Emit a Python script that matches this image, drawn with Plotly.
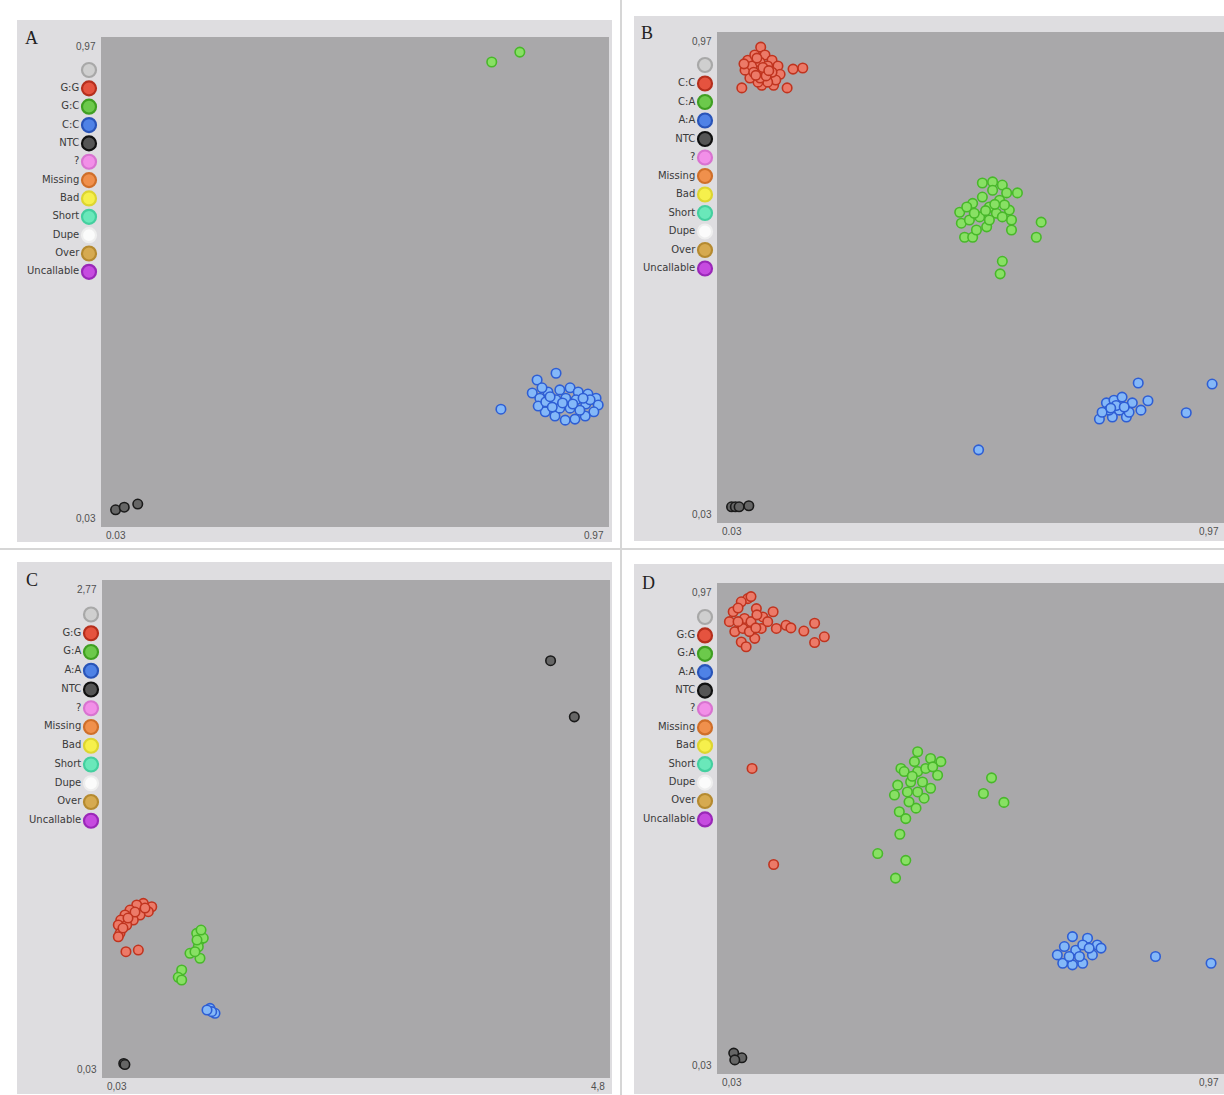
import plotly.graph_objects as go

W, H = 1224, 1095

# ---------------- data ----------------
# Panel A  (alleles G/C)
A_x_ticks = ["0.03", "0.97"]
A_y_ticks = ["0,03", "0,97"]
A_range_x = [0.03, 0.97]
A_range_y = [0.03, 0.97]
A_legend = ["", "G:G", "G:C", "C:C", "NTC", "?", "Missing", "Bad", "Short", "Dupe", "Over", "Uncallable"]
A_GC_x = [0.753, 0.805]
A_GC_y = [0.922, 0.941]
A_CC_x = [0.770, 0.837, 0.872, 0.898, 0.828, 0.842, 0.857, 0.879, 0.913, 0.931, 0.946, 0.950, 0.942, 0.926,
          0.907, 0.889, 0.870, 0.852, 0.839, 0.853, 0.872, 0.890, 0.909, 0.927, 0.879, 0.898, 0.916, 0.865,
          0.935, 0.846, 0.922, 0.884, 0.903, 0.861]
A_CC_y = [0.256, 0.312, 0.325, 0.297, 0.287, 0.277, 0.289, 0.293, 0.289, 0.285, 0.277, 0.264, 0.251, 0.243,
          0.237, 0.235, 0.243, 0.251, 0.262, 0.270, 0.274, 0.277, 0.274, 0.266, 0.258, 0.258, 0.254, 0.260,
          0.274, 0.297, 0.277, 0.268, 0.266, 0.280]
A_NTC_x = [0.057, 0.073, 0.098]
A_NTC_y = [0.063, 0.068, 0.074]

# Panel B  (alleles C/A)
B_x_ticks = ["0.03", "0,97"]
B_y_ticks = ["0,03", "0,97"]
B_range_x = [0.03, 0.97]
B_range_y = [0.03, 0.97]
B_legend = ["", "C:C", "C:A", "A:A", "NTC", "?", "Missing", "Bad", "Short", "Dupe", "Over", "Uncallable"]
B_CC_x = [0.111, 0.171, 0.189, 0.076, 0.113, 0.135, 0.160, 0.087, 0.100, 0.119, 0.132, 0.143, 0.147, 0.139,
          0.124, 0.106, 0.091, 0.082, 0.095, 0.110, 0.124, 0.132, 0.113, 0.098, 0.110, 0.121, 0.080, 0.104,
          0.115, 0.126, 0.102]
B_CC_y = [0.941, 0.899, 0.901, 0.863, 0.868, 0.868, 0.863, 0.916, 0.926, 0.926, 0.916, 0.905, 0.889, 0.878,
          0.874, 0.874, 0.882, 0.897, 0.905, 0.912, 0.905, 0.893, 0.893, 0.893, 0.882, 0.886, 0.909, 0.920,
          0.902, 0.896, 0.887]
B_CA_x = [0.522, 0.541, 0.559, 0.587, 0.480, 0.483, 0.489, 0.504, 0.572, 0.576, 0.576, 0.631, 0.622, 0.559,
          0.555, 0.504, 0.522, 0.535, 0.554, 0.548, 0.517, 0.498, 0.530, 0.511, 0.559, 0.541, 0.567, 0.493,
          0.507, 0.535, 0.563, 0.528, 0.545]
B_CA_y = [0.681, 0.683, 0.677, 0.662, 0.625, 0.604, 0.577, 0.577, 0.629, 0.610, 0.591, 0.606, 0.577, 0.531,
          0.507, 0.642, 0.654, 0.635, 0.648, 0.623, 0.616, 0.610, 0.597, 0.591, 0.616, 0.667, 0.662, 0.635,
          0.623, 0.610, 0.639, 0.628, 0.640]
B_AA_x = [0.515, 0.739, 0.752, 0.766, 0.781, 0.800, 0.816, 0.789, 0.763, 0.776, 0.794, 0.757, 0.744, 0.811,
          0.829, 0.900, 0.948, 0.770, 0.785, 0.760]
B_AA_y = [0.170, 0.229, 0.260, 0.265, 0.271, 0.260, 0.246, 0.233, 0.233, 0.246, 0.242, 0.246, 0.242, 0.298,
          0.264, 0.241, 0.296, 0.255, 0.252, 0.250]
B_NTC_x = [0.057, 0.064, 0.071, 0.089]
B_NTC_y = [0.061, 0.061, 0.061, 0.063]

# Panel C  (alleles G/A, wider scale)
C_x_ticks = ["0,03", "4,8"]
C_y_ticks = ["0,03", "2,77"]
C_range_x = [0.03, 4.8]
C_range_y = [0.03, 2.77]
C_legend = ["", "G:G", "G:A", "A:A", "NTC", "?", "Missing", "Bad", "Short", "Dupe", "Over", "Uncallable"]
C_GG_x = [0.497, 0.418, 0.356, 0.293, 0.246, 0.206, 0.183, 0.465, 0.387, 0.324, 0.262, 0.199, 0.183, 0.255,
          0.371, 0.434, 0.340, 0.274, 0.227]
C_GG_y = [0.972, 0.991, 0.982, 0.954, 0.927, 0.899, 0.872, 0.945, 0.927, 0.899, 0.872, 0.826, 0.807, 0.725,
          0.734, 0.965, 0.943, 0.910, 0.855]
C_GA_x = [0.919, 0.950, 0.981, 0.934, 0.856, 0.950, 0.903, 0.778, 0.746, 0.778, 0.960, 0.922]
C_GA_y = [0.826, 0.789, 0.800, 0.752, 0.716, 0.689, 0.725, 0.624, 0.584, 0.569, 0.844, 0.789]
C_AA_x = [1.044, 1.091, 1.060, 1.016]
C_AA_y = [0.413, 0.386, 0.395, 0.404]
C_NTC_x = [4.242, 4.465, 0.234, 0.245]
C_NTC_y = [2.326, 2.017, 0.110, 0.104]

# Panel D  (alleles G/A)
D_x_ticks = ["0,03", "0,97"]
D_y_ticks = ["0,03", "0,97"]
D_range_x = [0.03, 0.97]
D_range_y = [0.03, 0.97]
D_legend = ["", "G:G", "G:A", "A:A", "NTC", "?", "Missing", "Bad", "Short", "Dupe", "Over", "Uncallable"]
D_GG_x = [0.087, 0.075, 0.093, 0.060, 0.053, 0.063, 0.075, 0.084, 0.100, 0.112, 0.115, 0.103, 0.081, 0.093,
          0.078, 0.090, 0.069, 0.134, 0.140, 0.158, 0.167, 0.191, 0.211, 0.229, 0.211, 0.124, 0.095, 0.135,
          0.104, 0.069, 0.102]
D_GG_y = [0.940, 0.934, 0.944, 0.915, 0.896, 0.877, 0.857, 0.848, 0.864, 0.883, 0.905, 0.921, 0.902, 0.896,
          0.883, 0.877, 0.896, 0.915, 0.883, 0.889, 0.884, 0.878, 0.893, 0.867, 0.856, 0.896, 0.615, 0.431,
          0.909, 0.922, 0.884]
D_GA_x = [0.402, 0.426, 0.445, 0.371, 0.365, 0.359, 0.368, 0.380, 0.439, 0.426, 0.414, 0.399, 0.402, 0.389,
          0.411, 0.383, 0.402, 0.386, 0.377, 0.417, 0.396, 0.539, 0.524, 0.562, 0.369, 0.328, 0.380, 0.361,
          0.430, 0.392]
D_GA_y = [0.647, 0.634, 0.628, 0.615, 0.583, 0.564, 0.532, 0.519, 0.602, 0.577, 0.558, 0.539, 0.609, 0.589,
          0.589, 0.570, 0.570, 0.551, 0.609, 0.615, 0.628, 0.597, 0.567, 0.550, 0.489, 0.452, 0.439, 0.405,
          0.618, 0.600]
D_AA_x = [0.689, 0.717, 0.735, 0.742, 0.726, 0.708, 0.689, 0.671, 0.661, 0.674, 0.695, 0.708, 0.683, 0.702,
          0.720, 0.843, 0.946]
D_AA_y = [0.293, 0.290, 0.277, 0.271, 0.258, 0.242, 0.239, 0.242, 0.258, 0.274, 0.267, 0.277, 0.255, 0.255,
          0.271, 0.255, 0.242]
D_NTC_x = [0.061, 0.076, 0.063]
D_NTC_y = [0.070, 0.061, 0.057]

# ---------------- styles ----------------
PT = {  # fill, outline for data points
    "red": ("#ec7a68", "#c0341f"),
    "green": ("#88e064", "#48b82a"),
    "blue": ("#84b8f8", "#2e5ed4"),
    "ntc": ("#666666", "#1a1a1a"),
}
LEG_FILL = ["#cfcfcf", "#e5533f", "#6cc94b", "#4f82e6", "#555555", "#f28fe8", "#f0904c",
            "#f6f04c", "#6ae8ba", "#fbfbfb", "#d6aa50", "#c64be0"]
LEG_LINE = ["#a8a8a8", "#b52f1d", "#3f9f22", "#2954b8", "#111111", "#d873d0", "#cf6f2a",
            "#ddd530", "#44cf9f", "#eeeeee", "#b58a30", "#9a28b8"]
FRAME = "#dedde0"
PLOTBG = "#a9a8aa"
FONT = "Liberation Sans, Arial, sans-serif"
LEG_FONT = "DejaVu Sans, Verdana, sans-serif"

panels = [
    dict(letter="A", plot=(101, 609, 37, 527), frame=(17, 612, 20, 542), letter_xy=(31, 38),
         leg=(89, 70, 18.35), xr=A_range_x, yr=A_range_y, xt=A_x_ticks, yt=A_y_ticks, legend=A_legend,
         series=[(A_GC_x, A_GC_y, "green"), (A_CC_x, A_CC_y, "blue"), (A_NTC_x, A_NTC_y, "ntc")]),
    dict(letter="B", plot=(717, 1224, 32, 523), frame=(634, 1224, 16, 541), letter_xy=(647, 33),
         leg=(705, 65, 18.5), xr=B_range_x, yr=B_range_y, xt=B_x_ticks, yt=B_y_ticks, legend=B_legend,
         series=[(B_CC_x, B_CC_y, "red"), (B_CA_x, B_CA_y, "green"), (B_AA_x, B_AA_y, "blue"),
                 (B_NTC_x, B_NTC_y, "ntc")]),
    dict(letter="C", plot=(102, 610, 580, 1078), frame=(17, 612, 562, 1094), letter_xy=(32, 580),
         leg=(91, 614.5, 18.75), xr=C_range_x, yr=C_range_y, xt=C_x_ticks, yt=C_y_ticks, legend=C_legend,
         series=[(C_GG_x, C_GG_y, "red"), (C_GA_x, C_GA_y, "green"), (C_AA_x, C_AA_y, "blue"),
                 (C_NTC_x, C_NTC_y, "ntc")]),
    dict(letter="D", plot=(717, 1224, 583, 1074), frame=(634, 1224, 564, 1094), letter_xy=(648, 583),
         leg=(705, 617, 18.4), xr=D_range_x, yr=D_range_y, xt=D_x_ticks, yt=D_y_ticks, legend=D_legend,
         series=[(D_GG_x, D_GG_y, "red"), (D_GA_x, D_GA_y, "green"), (D_AA_x, D_AA_y, "blue"),
                 (D_NTC_x, D_NTC_y, "ntc")]),
]


def px_x(p):
    return p / W


def px_y(p):
    return 1 - p / H


fig = go.Figure()
layout = dict(width=W, height=H, margin=dict(l=0, r=0, t=0, b=0), paper_bgcolor="white",
              plot_bgcolor="rgba(0,0,0,0)", showlegend=False)
shapes = []
annotations = []

# thin separators between the four pictures
shapes.append(dict(type="line", xref="paper", yref="paper", x0=px_x(621), x1=px_x(621), y0=0, y1=1,
                   line=dict(color="#d6d6d6", width=2), layer="below"))
shapes.append(dict(type="line", xref="paper", yref="paper", x0=0, x1=1, y0=px_y(549), y1=px_y(549),
                   line=dict(color="#d6d6d6", width=2), layer="below"))

for i, p in enumerate(panels):
    k = i + 1
    xa = "x" if k == 1 else f"x{k}"
    ya = "y" if k == 1 else f"y{k}"
    xl, xr_, yt_, yb = p["plot"]
    fx0, fx1, fy0, fy1 = p["frame"]
    shapes.append(dict(type="rect", xref="paper", yref="paper", x0=px_x(fx0), x1=px_x(fx1),
                       y0=px_y(fy1), y1=px_y(fy0), fillcolor=FRAME, line=dict(width=0), layer="below"))
    shapes.append(dict(type="rect", xref=f"{xa} domain", yref=f"{ya} domain", x0=0, x1=1, y0=0, y1=1,
                       fillcolor=PLOTBG, line=dict(width=0), layer="below"))
    axname_x = "xaxis" if k == 1 else f"xaxis{k}"
    axname_y = "yaxis" if k == 1 else f"yaxis{k}"
    layout[axname_x] = dict(domain=[px_x(xl), px_x(xr_)], range=p["xr"], showgrid=False, zeroline=False,
                            showticklabels=False, ticks="", showline=False, anchor=ya)
    layout[axname_y] = dict(domain=[px_y(yb), px_y(yt_)], range=p["yr"], showgrid=False, zeroline=False,
                            showticklabels=False, ticks="", showline=False, anchor=xa)
    for sx, sy, c in p["series"]:
        fill, line = PT[c]
        fig.add_trace(go.Scatter(x=sx, y=sy, mode="markers", xaxis=xa, yaxis=ya, cliponaxis=False,
                                 marker=dict(size=9.5, color=fill, line=dict(color=line, width=1.6)),
                                 hoverinfo="x+y"))
    tf = dict(family=FONT, size=10, color="#505050")
    annotations += [
        dict(text=p["xt"][0], xref=xa, yref=f"{ya} domain", x=p["xr"][0], y=0, xanchor="left", yanchor="top",
             xshift=3, yshift=-1, showarrow=False, font=tf),
        dict(text=p["xt"][1], xref=xa, yref=f"{ya} domain", x=p["xr"][1], y=0, xanchor="right", yanchor="top",
             xshift=-3, yshift=-1, showarrow=False, font=tf),
        dict(text=p["yt"][1], xref=f"{xa} domain", yref=ya, x=0, y=p["yr"][1], xanchor="right", yanchor="top",
             xshift=-3, yshift=-2, showarrow=False, font=tf),
        dict(text=p["yt"][0], xref=f"{xa} domain", yref=ya, x=0, y=p["yr"][0], xanchor="right", yanchor="bottom",
             xshift=-3, yshift=1, showarrow=False, font=tf),
    ]
    lx, ly = p["letter_xy"]
    annotations.append(dict(text=p["letter"], xref="paper", yref="paper", x=px_x(lx), y=px_y(ly),
                            xanchor="center", yanchor="middle", showarrow=False,
                            font=dict(family="Liberation Serif, Times New Roman, serif", size=18, color="#222")))
    kl = k + 4
    cx, y0, dy = p["leg"]
    n = len(p["legend"])
    layout[f"xaxis{kl}"] = dict(domain=[px_x(cx - 9), px_x(cx + 9)], range=[-1, 1], visible=False,
                                anchor=f"y{kl}", fixedrange=True)
    layout[f"yaxis{kl}"] = dict(domain=[px_y(y0 + (n - 0.5) * dy), px_y(y0 - 0.5 * dy)],
                                range=[n - 0.5, -0.5], visible=False, anchor=f"x{kl}", fixedrange=True)
    fig.add_trace(go.Scatter(x=[0] * n, y=list(range(n)), mode="markers+text", text=p["legend"],
                             textposition="middle left", xaxis=f"x{kl}", yaxis=f"y{kl}", cliponaxis=False,
                             textfont=dict(family=LEG_FONT, size=10, color="#3a3a3a"),
                             marker=dict(size=14, color=LEG_FILL, line=dict(color=LEG_LINE, width=2.2)),
                             hoverinfo="text"))

layout["shapes"] = shapes
layout["annotations"] = annotations
fig.update_layout(**layout)
fig.write_html("out.html", config={"displayModeBar": False},
               post_script="document.body.style.margin='0';document.body.style.overflow='hidden';")
